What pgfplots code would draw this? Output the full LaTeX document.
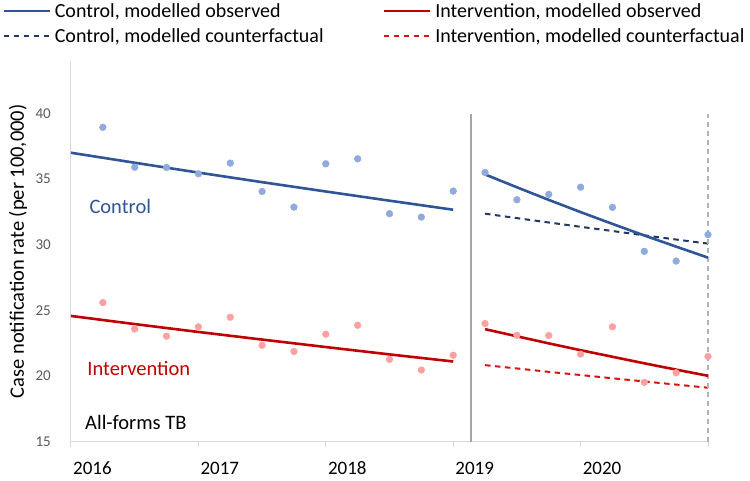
\documentclass[border=0pt]{standalone}
\usepackage{pgfplots}
\pgfplotsset{compat=1.18}
\usepackage{fontspec}
\setmainfont{Carlito}
\definecolor{ctrlline}{RGB}{47,85,151}
\definecolor{ctrlpt}{RGB}{143,170,220}
\definecolor{ctrlcf}{RGB}{32,56,100}
\definecolor{intline}{RGB}{192,0,0}
\definecolor{intpt}{RGB}{255,160,160}
\definecolor{intcf}{RGB}{215,20,20}
\definecolor{axgray}{RGB}{217,217,217}
\definecolor{ticklab}{RGB}{89,89,89}
\definecolor{sepgray}{RGB}{166,166,166}
\begin{document}
\begin{tikzpicture}
\begin{axis}[
  at={(0pt,0pt)}, anchor=south west,
  scale only axis, width=637pt, height=380.7pt,
  xmin=0, xmax=20, ymin=15, ymax=44,
  clip=false,
  axis lines*=left,
  axis line style={draw=axgray, line width=1pt},
  xtick={0,4,8,12,16,20},
  xticklabels={2016,2017,2018,2019,2020,{}},
  ytick={15,20,25,30,35,40},
  tick align=outside,
  major tick length=5pt,
  x tick style={draw=axgray, line width=1pt},
  y tick style={draw=none},
  xticklabel style={anchor=north west, inner sep=0pt, xshift=2pt, yshift=-15pt, font=\fontsize{19}{22}\selectfont, text=black},
  yticklabel style={anchor=east, inner sep=0pt, xshift=-15pt, font=\fontsize{15}{18}\selectfont, text=ticklab},
  /pgf/number format/assume math mode=true,
  ylabel={Case notification rate (per 100,000)},
  ylabel style={at={(axis description cs:-0.0832,0.5)}, anchor=center, font=\fontsize{20.5}{24}\selectfont},
  legend columns=2,
  legend cell align=left,
  legend style={draw=none, fill=none, at={(axis description cs:-0.1083,1.155)}, anchor=north west,
    font=\fontsize{20}{24}\selectfont, inner sep=0pt, row sep=8pt,
    nodes={inner sep=1pt, text=black},
    /tikz/every even column/.append style={column sep=58pt},
    /tikz/every odd column/.append style={column sep=3pt}},
  legend image code/.code={\draw[#1] (0pt,0pt) -- (46pt,0pt);},
]
% legend-bearing model lines
\addplot[color=ctrlline, line width=2.6pt] coordinates {(0,37.01) (2,36.25) (4,35.50) (6,34.77) (8,34.06) (10,33.36) (12,32.67)};
\addlegendentry{Control, modelled observed}
\addplot[color=intline, line width=2.6pt] coordinates {(0,24.58) (2,23.96) (4,23.36) (6,22.78) (8,22.21) (10,21.65) (12,21.11)};
\addlegendentry{Intervention, modelled observed}
\addplot[color=ctrlcf, line width=2pt, dash pattern=on 5.5pt off 4.5pt] coordinates {(13,32.37) (14,32.03) (15,31.70) (16,31.37) (17,31.05) (18,30.72) (19,30.40) (20,30.09)};
\addlegendentry{Control, modelled counterfactual}
\addplot[color=intcf, line width=2pt, dash pattern=on 5.5pt off 4.5pt] coordinates {(13,20.83) (14,20.58) (15,20.32) (16,20.08) (17,19.83) (18,19.59) (19,19.35) (20,19.11)};
\addlegendentry{Intervention, modelled counterfactual}
% separators
\addplot[forget plot, color=sepgray, line width=2.3pt] coordinates {(12.55,15) (12.55,40)};
\addplot[forget plot, color=sepgray!85, line width=1.3pt, dash pattern=on 5pt off 4pt] coordinates {(20,15) (20,40)};
% observed points
\addplot[forget plot, only marks, mark=*, mark size=3.4pt, color=ctrlpt] coordinates {
(1,38.95) (2,35.91) (3,35.89) (4,35.41) (5,36.22) (6,34.06) (7,32.87) (8,36.17) (9,36.55) (10,32.37) (11,32.11) (12,34.09)
(13,35.51) (14,33.43) (15,33.84) (16,34.39) (17,32.85) (18,29.50) (19,28.76) (20,30.77)};
\addplot[forget plot, only marks, mark=*, mark size=3.4pt, color=intpt] coordinates {
(1,25.60) (2,23.59) (3,23.04) (4,23.75) (5,24.48) (6,22.35) (7,21.87) (8,23.19) (9,23.87) (10,21.27) (11,20.46) (12,21.59)
(13,24.00) (14,23.11) (15,23.09) (16,21.67) (17,23.75) (18,19.52) (19,20.25) (20,21.49)};
% post-period modelled observed
\addplot[forget plot, color=ctrlline, line width=2.6pt] coordinates {(13,35.36) (14,34.38) (15,33.42) (16,32.49) (17,31.59) (18,30.71) (19,29.86) (20,29.02)};
\addplot[forget plot, color=intline, line width=2.6pt] coordinates {(13,23.57) (14,23.03) (15,22.49) (16,21.97) (17,21.47) (18,20.97) (19,20.49) (20,20.02)};
% annotations
\node[anchor=west, inner sep=0pt, text=ctrlline, font=\fontsize{20.5}{24}\selectfont] at (axis cs:0.575,32.92) {Control};
\node[anchor=west, inner sep=0pt, text=intline, font=\fontsize{20.5}{24}\selectfont] at (axis cs:0.51,20.58) {Intervention};
\node[anchor=west, inner sep=0pt, text=black, font=\fontsize{20.5}{24}\selectfont] at (axis cs:0.44,16.44) {All-forms TB};
\end{axis}
\pgfresetboundingbox
\path[use as bounding box] (-71pt,-38.3pt) rectangle (679pt,441.7pt);
\end{tikzpicture}
\end{document}
